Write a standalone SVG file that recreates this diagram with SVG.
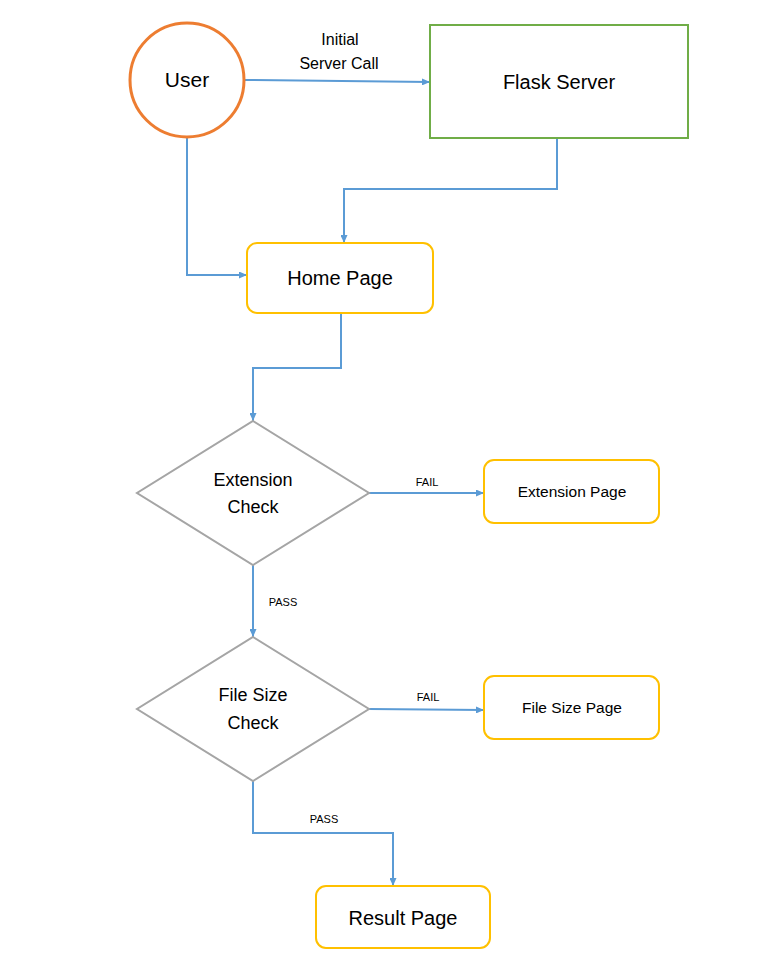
<svg xmlns="http://www.w3.org/2000/svg" width="778" height="977" viewBox="0 0 778 977">
<defs>
<marker id="arr" viewBox="0 0 10 10" refX="10" refY="5" markerWidth="8" markerHeight="7" orient="auto" markerUnits="userSpaceOnUse" preserveAspectRatio="none">
<path d="M0,0 L10,5 L0,10 z" fill="#5B9BD5"/>
</marker>
<style>
text{font-family:"Liberation Sans",Arial,sans-serif;fill:#000;text-anchor:middle}
.c{fill:none;stroke:#5B9BD5;stroke-width:2}
.page{fill:#fff;stroke:#FFC000;stroke-width:2}
.dia{fill:#fff;stroke:#A5A5A5;stroke-width:2}
.lbl{font-size:11px}
</style>
</defs>
<rect width="778" height="977" fill="#fff"/>
<g id="connectors">
<path class="c" d="M245,80 L430,82" marker-end="url(#arr)"/>
<path class="c" d="M557,138 V189 H344 V243" marker-end="url(#arr)"/>
<path class="c" d="M187,138 V275 H247" marker-end="url(#arr)"/>
<path class="c" d="M341,313 V368 H253 V421" marker-end="url(#arr)"/>
<path class="c" d="M369,493 H484" marker-end="url(#arr)"/>
<path class="c" d="M253,565 V637" marker-end="url(#arr)"/>
<path class="c" d="M369,709 L484,710" marker-end="url(#arr)"/>
<path class="c" d="M253,781 V833 H393 V886" marker-end="url(#arr)"/>
<text x="340" y="45" style="font-size:16px">Initial</text>
<text x="339" y="69" style="font-size:16px">Server Call</text>
<text class="lbl" x="427" y="486">FAIL</text>
<text class="lbl" x="283" y="606">PASS</text>
<text class="lbl" x="428" y="701">FAIL</text>
<text class="lbl" x="324" y="823">PASS</text>
</g>
<g id="user">
<circle cx="187" cy="80" r="57" fill="#fff" stroke="#ED7D31" stroke-width="3"/>
<text x="187" y="87" style="font-size:21px">User</text>
</g>
<g id="flask">
<rect x="430" y="25" width="258" height="113" fill="#fff" stroke="#70AD47" stroke-width="2"/>
<text x="559" y="89" style="font-size:20px">Flask Server</text>
</g>
<g id="home">
<rect class="page" x="247" y="243" width="186" height="70" rx="10"/>
<text x="340" y="285" style="font-size:20px">Home Page</text>
</g>
<g id="extcheck">
<polygon class="dia" points="253,421 369,493 253,565 137,493"/>
<text x="253" y="486" style="font-size:18px">Extension</text>
<text x="253" y="513" style="font-size:18px">Check</text>
</g>
<g id="extpage">
<rect class="page" x="484" y="460" width="175" height="63" rx="10"/>
<text x="572" y="497" style="font-size:15.5px">Extension Page</text>
</g>
<g id="sizecheck">
<polygon class="dia" points="253,637 369,709 253,781 137,709"/>
<text x="253" y="701" style="font-size:18px">File Size</text>
<text x="253" y="729" style="font-size:18px">Check</text>
</g>
<g id="sizepage">
<rect class="page" x="484" y="676" width="175" height="63" rx="10"/>
<text x="572" y="713" style="font-size:15.5px">File Size Page</text>
</g>
<g id="result">
<rect class="page" x="316" y="886" width="174" height="62" rx="10"/>
<text x="403" y="925" style="font-size:20px">Result Page</text>
</g>
</svg>
